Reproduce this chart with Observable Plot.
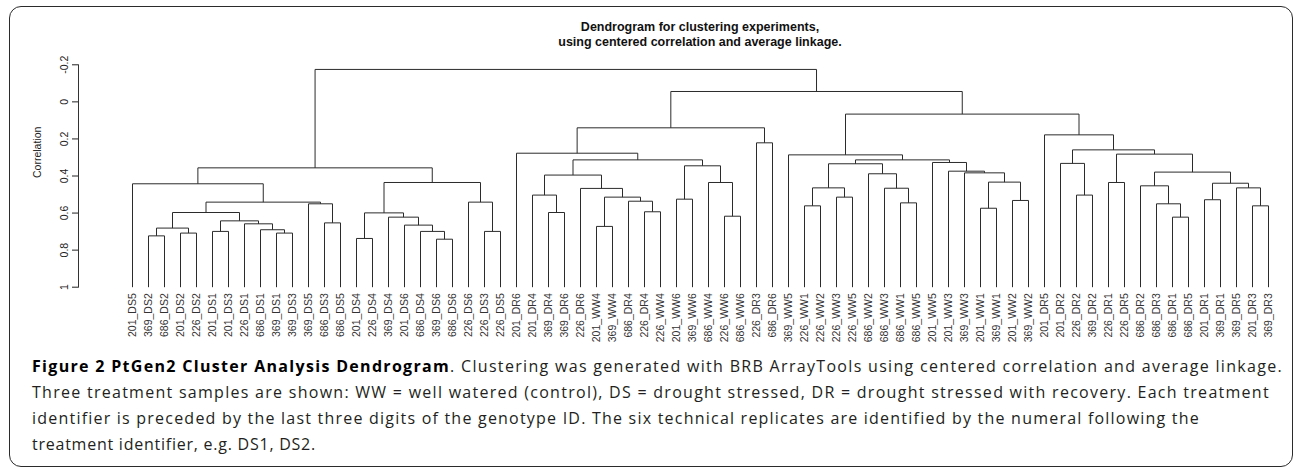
<!DOCTYPE html>
<html>
<head>
<meta charset="utf-8">
<script src="https://cdn.jsdelivr.net/npm/d3@7"></script>
<script src="https://cdn.jsdelivr.net/npm/@observablehq/plot@0.6"></script>
<style>
  body { margin: 0; background: #fff; }
  #wrap { position: relative; width: 1293px; height: 469px; overflow: hidden; background: #fff; }
  #border { position: absolute; left: 9px; top: 6px; width: 1284px; height: 461px; border: 1.5px solid #2b2b2b; border-radius: 12px; box-sizing: border-box; }
  #chart { position: absolute; left: 0; top: 0; }
  #title { position: absolute; left: 450px; width: 500px; top: 20.4px; text-align: center; font: bold 12.5px "Liberation Sans", Arial, sans-serif; line-height: 14.5px; color: #111; }
  #caption { position: absolute; left: 32px; top: 354.4px; font: 16px "Open Sans", sans-serif; line-height: 25.8px; color: #231f20; white-space: nowrap; }
  #caption .ln { display: inline-block; }
  #caption b { color: #000; }
</style>
</head>
<body>
<div id="wrap">
  <div id="border"></div>
  <div id="chart"></div>
  <div id="title"></div>
  <div id="caption"></div>
</div>
<script>
// ---------- data ----------
const leafLabels = [
  "201_DS5","369_DS2","686_DS2","201_DS2","226_DS2","201_DS1","201_DS3","226_DS1","686_DS1","369_DS1",
  "369_DS3","369_DS5","686_DS3","686_DS5","201_DS4","226_DS4","369_DS4","201_DS6","686_DS4","369_DS6",
  "686_DS6","226_DS6","226_DS3","226_DS5","201_DR6","201_DR4","369_DR4","369_DR6","226_DR6","201_WW4",
  "369_WW4","686_DR4","226_DR4","226_WW4","201_WW6","369_WW6","686_WW4","226_WW6","686_WW6","226_DR3",
  "686_DR6","369_WW5","226_WW1","226_WW2","226_WW3","226_WW5","686_WW2","686_WW3","686_WW1","686_WW5",
  "201_WW5","201_WW3","369_WW3","201_WW1","369_WW1","201_WW2","369_WW2","201_DR5","201_DR2","226_DR2",
  "369_DR2","226_DR1","226_DR5","686_DR2","686_DR3","686_DR1","686_DR5","201_DR1","369_DR1","369_DR5",
  "201_DR3","369_DR3"
];
// merges: node ids 0..71 are leaves, merge k creates node 72+k
const mergeLeft = [
  1,3,72,5,9,8,7,75,74,12,11,80,0,
  14,19,18,17,16,85,22,21,90,84,
  26,25,29,32,31,97,28,96,34,37,36,103,102,24,39,108,
  42,44,111,48,47,46,113,53,55,118,52,51,50,117,41,
  59,58,61,65,64,63,67,70,69,132,131,128,127,57,125,110,94
];
const mergeRight = [
  2,4,73,6,10,76,77,78,79,13,81,82,83,
  15,20,86,87,88,89,23,91,92,93,
  27,95,30,33,98,99,100,101,35,38,104,105,106,107,40,109,
  43,45,112,49,114,115,116,54,56,119,120,121,122,123,124,
  60,126,62,66,129,130,68,71,133,134,135,136,137,138,139,140,141
];
const mergeHeight = [
  0.723,0.708,0.681,0.699,0.708,0.690,0.658,0.642,0.597,0.653,0.550,0.541,0.442,
  0.737,0.741,0.699,0.665,0.622,0.599,0.699,0.541,0.435,0.356,
  0.597,0.503,0.672,0.593,0.536,0.514,0.467,0.395,0.525,0.617,0.435,0.345,0.313,0.277,0.221,0.140,
  0.561,0.514,0.464,0.545,0.466,0.388,0.334,0.574,0.532,0.433,0.383,0.374,0.327,0.313,0.286,
  0.503,0.332,0.435,0.622,0.550,0.453,0.528,0.561,0.464,0.439,0.379,0.282,0.259,0.178,0.066,-0.056,-0.175
];
const yTicks = [-0.2, 0, 0.2, 0.4, 0.6, 0.8, 1];
const yDomain = [-0.2, 1];
const leafBase = 1;
const axisLabel = "Correlation";
const titleLines = ["Dendrogram for clustering experiments,", "using centered correlation and average linkage."];
const captionBold = "Figure 2 PtGen2 Cluster Analysis Dendrogram";
const captionLines = [
  ". Clustering was generated with BRB ArrayTools using centered correlation and average linkage.",
  "Three treatment samples are shown: WW = well watered (control), DS = drought stressed, DR = drought stressed with recovery. Each treatment",
  "identifier is preceded by the last three digits of the genotype ID. The six technical replicates are identified by the numeral following the",
  "treatment identifier, e.g. DS1, DS2."
];

// ---------- build dendrogram segments ----------
const n = leafLabels.length;
const nodeX = leafLabels.map((d, i) => i);
const nodeY = leafLabels.map(() => leafBase);
const segs = [];
mergeHeight.forEach((h, k) => {
  const a = mergeLeft[k], b = mergeRight[k];
  const xa = nodeX[a], xb = nodeX[b];
  segs.push({x1: xa, y1: nodeY[a], x2: xa, y2: h});
  segs.push({x1: xa, y1: h, x2: xb, y2: h});
  segs.push({x1: xb, y1: h, x2: xb, y2: nodeY[b]});
  nodeX.push((xa + xb) / 2);
  nodeY.push(h);
});

const chart = Plot.plot({
  width: 1293,
  height: 345,
  marginTop: 64.3,
  marginBottom: 58.3,
  marginLeft: 78,
  marginRight: 25,
  x: {domain: [0, n - 1], insetLeft: 54, axis: null},
  y: {domain: yDomain, reverse: true},
  style: {fontFamily: '"Liberation Sans", Arial, sans-serif', fontSize: "10.5px", color: "#222", background: "transparent", overflow: "visible"},
  marks: [
    Plot.frame({anchor: "left", stroke: "#333"}),
    Plot.axisY({ticks: yTicks, tickFormat: d => String(d), tickRotate: -90, tickSize: 6, tickPadding: 5, label: null}),
    Plot.text([axisLabel], {frameAnchor: "left", dx: -41, dy: 2, rotate: -90, text: d => d, fill: "#222"}),
    Plot.link(segs, {x1: "x1", y1: "y1", x2: "x2", y2: "y2", stroke: "#2b2b2b", strokeWidth: 1}),
    Plot.text(leafLabels, {x: (d, i) => i, y: () => leafBase, text: d => d, rotate: -90, textAnchor: "end", dy: 6, fill: "#333"})
  ]
});
document.getElementById("chart").appendChild(chart);

document.getElementById("title").innerHTML = titleLines.join("<br>");

// caption, each line stretched to the width it has in the original figure
const lineWidths = [1251, 1238, 1168, 284];
const cap = document.getElementById("caption");
const htmlLines = [
  "<b>" + captionBold + "</b>" + captionLines[0],
  captionLines[1], captionLines[2], captionLines[3]
];
cap.innerHTML = htmlLines.map(s => '<span class="ln">' + s + '</span>').join("<br>");
const spans = cap.querySelectorAll(".ln");
const plainLines = [captionBold + captionLines[0], captionLines[1], captionLines[2], captionLines[3]];
spans.forEach((sp, i) => {
  const w = sp.getBoundingClientRect().width;
  const ls = (lineWidths[i] - w) / plainLines[i].length;
  sp.style.letterSpacing = ls.toFixed(3) + "px";
});
</script>
</body>
</html>
